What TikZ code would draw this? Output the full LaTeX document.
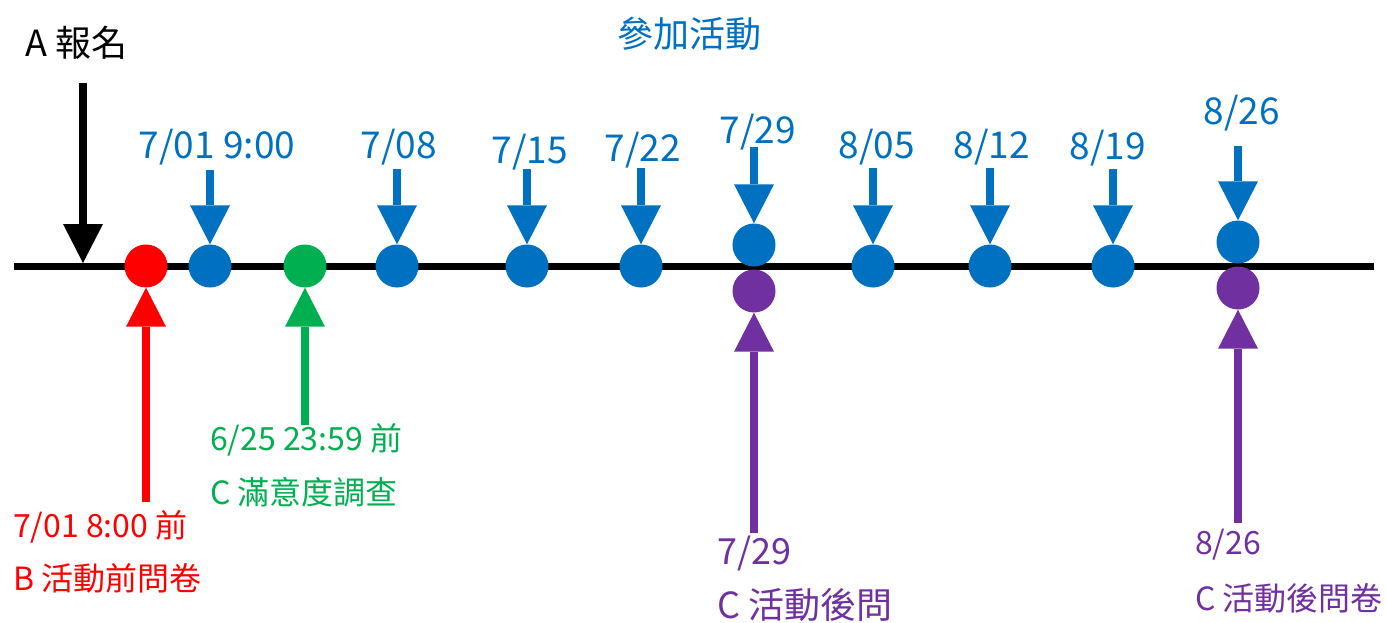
\documentclass[tikz,border=0pt]{standalone}
\usepackage{fontspec}
\setmainfont{Noto Sans CJK TC}
\usetikzlibrary{arrows.meta}
\definecolor{cblue}{HTML}{0070C0}
\definecolor{cred}{HTML}{FF0000}
\definecolor{cgreen}{HTML}{00B050}
\definecolor{cpurple}{HTML}{7030A0}
\begin{document}
\begin{tikzpicture}[x=1pt,y=-1pt,
  dot/.style={circle,fill=#1,minimum size=43pt,inner sep=0pt},
  arr/.style={draw=#1,line width=7.5pt,-{Triangle[width=40pt,length=39pt,line width=0pt,fill=#1]}},
  lbl/.style={inner sep=0pt,text=#1,font=\fontsize{32}{38}\selectfont},
  datelbl/.style={inner sep=0pt,text=cblue,font=\fontsize{37}{42}\selectfont},
  biglbl/.style={inner sep=0pt,text=#1,font=\fontsize{36}{42}\selectfont}]
\useasboundingbox (0,0) rectangle (1387,623);
% timeline
\coordinate (L) at (14,266);
\coordinate (R) at (1374,266);
\draw[line width=7pt] (L) -- (R);
% dots
\node[dot=cred] (dB) at (146,266) {};
\node[dot=cblue] (d1) at (210,266) {};
\node[dot=cgreen] (dC) at (305,266) {};
\node[dot=cblue] (d2) at (397,266) {};
\node[dot=cblue] (d3) at (527,266) {};
\node[dot=cblue] (d4) at (641,266) {};
\node[dot=cblue] (d5) at (754,245) {};
\node[dot=cpurple] (p5) at (754,291) {};
\node[dot=cblue] (d6) at (873,266) {};
\node[dot=cblue] (d7) at (990,266) {};
\node[dot=cblue] (d8) at (1113,266) {};
\node[dot=cblue] (d9) at (1238,242) {};
\node[dot=cpurple] (p9) at (1238,288) {};
% A
\node[biglbl=black,anchor=west] (A) at (25,43) {A 報名};
\coordinate (aTop) at (83,83);
\coordinate (aTip) at (83,263);
\draw[arr=black] (aTop) -- (aTip);
% title
\node[biglbl=cblue] (title) at (689,34) {參加活動};
% top blue arrows
\coordinate (t1) at (210,170);
\coordinate (t2) at (397,169);
\coordinate (t3) at (527,169);
\coordinate (t4) at (641,168);
\coordinate (t5) at (754,147);
\coordinate (t6) at (873,168);
\coordinate (t7) at (990,168);
\coordinate (t8) at (1113,169);
\coordinate (t9) at (1238,146);
\foreach \i in {1,...,9}{\draw[arr=cblue] (t\i) -- (d\i);}
\node[datelbl] (l1) at (217,147) {7/01 9:00};
\node[datelbl] (l2) at (399,147) {7/08};
\node[datelbl] (l3) at (530,152) {7/15};
\node[datelbl] (l4) at (643,150) {7/22};
\node[datelbl] (l5) at (758,132) {7/29};
\node[datelbl] (l6) at (877,147) {8/05};
\node[datelbl] (l7) at (992,147) {8/12};
\node[datelbl] (l8) at (1108,148) {8/19};
\node[datelbl] (l9) at (1242,113) {8/26};
% bottom arrows
\coordinate (bB) at (146,502);
\coordinate (bC) at (305,425);
\coordinate (b5) at (754,533);
\coordinate (b9) at (1238,523);
\draw[arr=cred] (bB) -- (dB);
\draw[arr=cgreen] (bC) -- (dC);
\draw[arr=cpurple] (b5) -- (p5);
\draw[arr=cpurple] (b9) -- (p9);
% bottom labels
\node[lbl=cred,anchor=west] (r1) at (13,527) {7/01 8:00 前};
\node[lbl=cred,anchor=west] (r2) at (13,578) {B 活動前問卷};
\node[lbl=cgreen,anchor=west] (g1) at (210,440) {6/25 23:59 前};
\node[lbl=cgreen,anchor=west] (g2) at (210,492) {C 滿意度調查};
\node[biglbl=cpurple,anchor=west] (q1) at (717,553) {7/29};
\node[biglbl=cpurple,anchor=west] (q2) at (717,605) {C 活動後問};
\node[lbl=cpurple,anchor=west] (s1) at (1195,545) {8/26};
\node[lbl=cpurple,anchor=west] (s2) at (1195,598) {C 活動後問卷};
\end{tikzpicture}
\end{document}
